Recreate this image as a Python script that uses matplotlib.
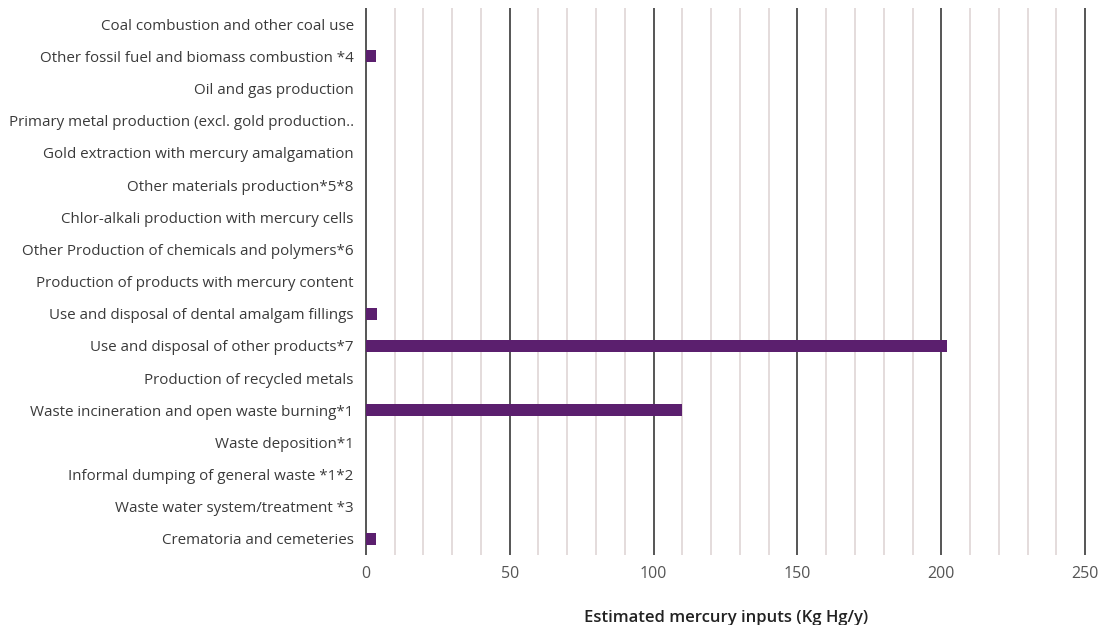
import matplotlib
matplotlib.use("Agg")
import matplotlib.pyplot as plt
import numpy as np

categories = [
    "Coal combustion and other coal use",
    "Other fossil fuel and biomass combustion *4",
    "Oil and gas production",
    "Primary metal production (excl. gold production..",
    "Gold extraction with mercury amalgamation",
    "Other materials production*5*8",
    "Chlor-alkali production with mercury cells",
    "Other Production of chemicals and polymers*6",
    "Production of products with mercury content",
    "Use and disposal of dental amalgam fillings",
    "Use and disposal of other products*7",
    "Production of recycled metals",
    "Waste incineration and open waste burning*1",
    "Waste deposition*1",
    "Informal dumping of general waste *1*2",
    "Waste water system/treatment *3",
    "Crematoria and cemeteries",
]
values = [0, 3.5, 0, 0, 0, 0, 0, 0, 0, 4, 202, 0, 110, 0, 0, 0, 3.5]
xticks = [0, 50, 100, 150, 200, 250]

plt.rcParams['font.family'] = ['Open Sans', 'DejaVu Sans']

fig = plt.figure(figsize=(11.04, 6.25), dpi=100)
ax = fig.add_axes([0.3306, 0.112, 0.655, 0.875])

y = np.arange(len(categories))
ax.barh(y, values, height=0.38, color='#5b1f6e', zorder=3)

# gridlines: dark every 50, light every 10
for v in range(0, 251, 10):
    if v % 50 == 0:
        ax.axvline(v, color='#555555', lw=1.4, zorder=2)
    else:
        ax.axvline(v, color='#dcd2d2', lw=1.1, zorder=1)

ax.set_ylim(len(categories) - 0.5, -0.5)
ax.set_xlim(-0.3, 251)
ax.set_yticks(y)
ax.set_yticklabels(categories, fontsize=10.9, color='#3a3a3a')
ax.set_xticks(xticks)
ax.set_xticklabels([str(t) for t in xticks], fontsize=11.5, color='#555555')
ax.tick_params(length=0, axis='y', pad=8)
ax.tick_params(length=0, axis='x', pad=8)
for s in ax.spines.values():
    s.set_visible(False)

ax.set_xlabel("Estimated mercury inputs (Kg Hg/y)", fontsize=12, color='#222222',
              fontweight='semibold', labelpad=20)

fig.savefig("out.png", dpi=100)
